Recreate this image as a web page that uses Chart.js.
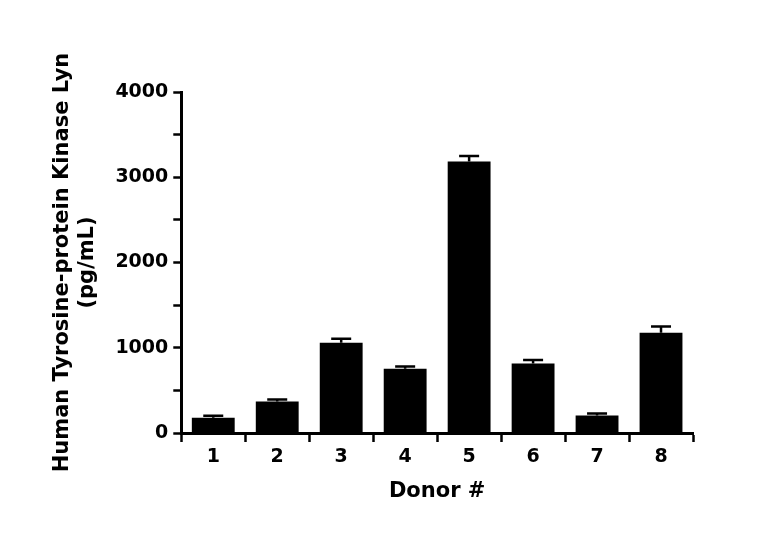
<!DOCTYPE html><html><head><script src="https://cdn.jsdelivr.net/npm/chart.js@4"></script>
<style>body{margin:0;background:#fff}#w{width:768px;height:542px}</style></head><body><div id="w"><canvas id="c"></canvas></div>
<script>
const categories=['1','2','3','4','5','6','7','8'];
const means=[180,370,1060,755,3185,815,205,1175];
const errors=[22,22,45,25,65,40,25,75];
const yTicks=[0,1000,2000,3000,4000];
const F='"DejaVu Sans", sans-serif';
const errPlugin={id:'err',afterDatasetsDraw(ch){const c=ch.ctx,x=ch.scales.x,y=ch.scales.y;c.save();c.strokeStyle='#000';c.lineWidth=2.5;
means.forEach((m,i)=>{const px=x.getPixelForValue(i),t=y.getPixelForValue(m+errors[i]),b=y.getPixelForValue(m);c.beginPath();c.moveTo(px,b);c.lineTo(px,t);c.moveTo(px-10,t);c.lineTo(px+10,t);c.stroke();});c.restore();}};
new Chart(document.getElementById('c'),{type:'bar',data:{labels:categories,datasets:[{data:means,backgroundColor:'#000',borderWidth:0,barPercentage:0.67,categoryPercentage:1}]},
options:{responsive:true,maintainAspectRatio:false,animation:false,layout:{padding:{left:46,right:75,top:92,bottom:34}},
plugins:{legend:{display:false},tooltip:{enabled:false}},
scales:{x:{grid:{display:true,drawOnChartArea:false,color:'#000',drawTicks:true,tickLength:9,tickColor:'#000',tickWidth:2.5},border:{color:'#000',width:3},
ticks:{color:'#000',font:{family:F,size:19,weight:'bold'},padding:4},
title:{display:true,text:'Donor #',color:'#000',font:{family:F,size:21,weight:'bold'},padding:{top:6}}},
y:{min:0,max:4000,afterBuildTicks(a){const t=[];for(let v=0;v<=4000;v+=500)t.push({value:v});a.ticks=t;},
grid:{display:true,drawOnChartArea:false,color:'#000',drawTicks:true,tickLength:8,tickColor:'#000',tickWidth:2.5},border:{color:'#000',width:3},
ticks:{color:'#000',font:{family:F,size:19,weight:'bold'},padding:5,callback:v=>yTicks.includes(v)?String(v):''},
title:{display:true,text:['Human Tyrosine-protein Kinase Lyn','(pg/mL)'],color:'#000',font:{family:F,size:21,weight:'bold'},padding:{bottom:10}}}}},
plugins:[errPlugin]});
</script></body></html>
